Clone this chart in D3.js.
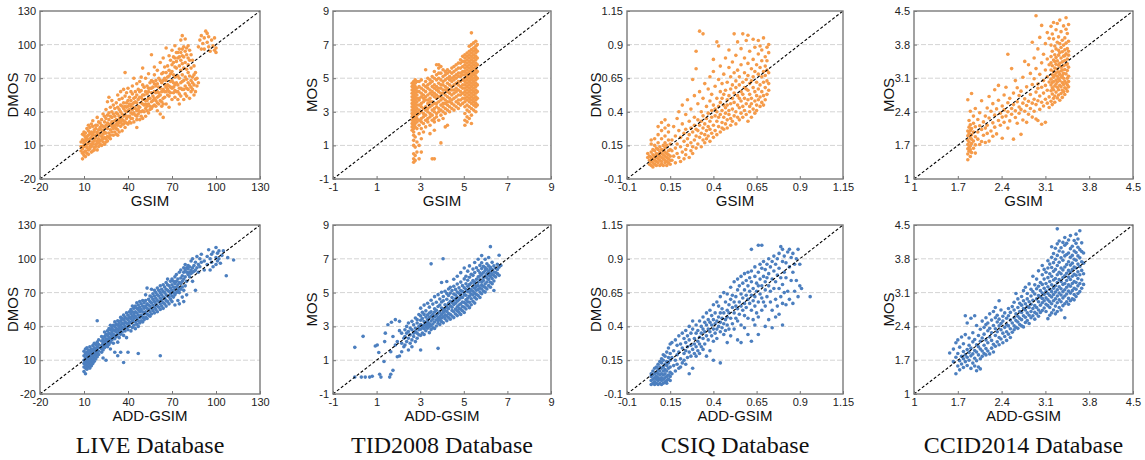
<!DOCTYPE html>
<html>
<head>
<meta charset="utf-8">
<title>GSIM vs ADD-GSIM scatter plots</title>
<script src="https://d3js.org/d3.v7.min.js"></script>
<style>
body { margin: 0; background: #fff; }
.tick text { font-family: "Liberation Sans", Arial, sans-serif; font-size: 11px; fill: #222; }
.tick line { stroke: #777; }
.axis-title { font-family: "Liberation Sans", Arial, sans-serif; font-size: 15px; fill: #111; }
.db-title { font-family: "Liberation Serif", "Times New Roman", serif; font-size: 24px; fill: #111; }
</style>
</head>
<body>
<div id="container"></div>
<script>

//---------------------------- DATA ----------------------------//
// every column is [x, y1, y2, ...]
var liveGsimCols = [
[8,5,9,13],[9,-2,3,7,9,15,20],[10,1,4,9,12,14,19,22],[11,0,5,10,14,17,21],[12,3,8,11,16,18,25],
[13,2,6,12,15,19,23,28],[14,7,9,14,16,21,26],[15,4,9,11,17,20,22,29],[16,5,11,13,19,21,27,32],
[17,6,8,14,16,22,24],[18,9,11,17,19,25,28],[19,6,12,14,20,22,28,35],
[20,9,16,13,24,31,19],[21,14,21,26,11,30],[22,18,10,24,33,15,28],[23,13,27,20,38,23,16],
[24,22,11,31,17,36,26],[25,16,28,42,21,13,34],[26,25,18,49,30,14,37],[27,21,33,28,53,17,39],
[28,29,16,44,24,36,19],[29,35,22,27,50,31,40],[30,19,31,46,25,38,28],[31,27,36,22,43,32],
[32,33,20,48,29,39,25],[33,24,38,19,55,31,44,28],[34,30,42,22,36,51,33],[35,40,27,58,34,46,31],
[36,33,23,45,38,52,29],[37,29,43,36,60,32,48],[38,37,26,54,41,75,31,45],[39,34,48,30,57,40,44],
[40,41,29,61,36,50,45],[41,36,47,31,53,42],[42,45,30,58,39,50,34],[43,38,56,34,63,47,42],
[44,44,31,70,39,52,48],[45,49,37,58,43,53],[46,26,41,55,36,65,48,33],[47,45,38,60,51,42],
[48,53,33,67,44,58,40],[49,40,59,48,71,36,53],[50,47,34,79,55,41,64,51],[51,55,40,62,46,51],
[52,43,58,36,70,50,47],[53,50,63,41,56,45],[54,58,39,74,47,61,52],[55,45,61,52,66,42],
[56,49,91,57,43,68,61],[57,62,45,54,67,50],[58,52,80,46,65,58,73],[59,57,45,68,50,63],
[60,48,77,58,41,65,53],[61,62,47,70,54,57],[62,55,38,84,61,68,50],[63,49,66,58,74,45],
[64,60,35,75,52,88,68,47],[65,64,53,80,58,70],[66,58,97,47,68,75,62],[67,71,55,64,81,60],
[68,63,44,90,54,72,77,58],[69,67,57,86,62,74],[70,76,51,95,61,68,82],[71,62,84,57,73,89,66],
[72,71,53,99,64,80,88,59],[73,79,58,93,66,85,72],[74,64,51,88,72,93,58],[75,70,47,96,61,81,89,56],
[76,86,54,104,66,77,93,61],[77,73,60,108,83,96,67,90],[78,60,79,51,98,68,89],[79,84,56,105,71,94,63],
[80,69,54,91,78,97,61],[81,75,60,99,66,88,82],[82,64,52,95,72,86],[83,58,79,91,68,62],
[84,71,60,86,66],[85,64,55,81,73],[86,69,58,75],[87,63,70],
[88,66,98],[89,104],[90,96,108],[91,101],[92,96,106],[93,112],[94,102,110],
[95,98,107],[96,94],[97,104],[98,99],[99,95,106],[100,93,97]
];

var tidGsimCols = [
[2.63,1.9,2.1,2.3,2.5,2.7,2.9,3.1,3.3,3.5,3.7,3.9,4.1,4.3,4.5,4.7],
[2.7,0.0,0.2,0.5,1.0,1.3,1.6,1.8,2.0,2.2,2.4,2.6,2.8,3.0,3.2,3.4,3.6,3.8,4.0,4.2,4.4,4.6,4.8],
[2.77,0.1,0.4,0.9,1.5,2.1,2.3,2.5,2.7,2.9,3.1,3.3,3.5,3.7,3.9,4.1,4.3,4.5,4.7,4.9],
[2.85,0.6,1.2,2.0,2.4,2.6,2.8,3.0,3.2,3.4,3.6,3.8,4.0,4.2,4.4,4.8],
[2.95,0.2,1.0,1.7,2.2,2.5,2.9,3.1,3.4,3.7,3.8,4.2,4.5,4.8],
[3.05,0.6,1.4,2.0,2.4,2.6,3.0,3.3,3.5,3.9,4.1,4.4,4.9],
[3.15,1.8,2.3,2.7,2.9,3.2,3.6,3.8,4.0,4.3,4.6],
[3.25,2.1,2.5,2.8,3.1,3.3,3.7,3.9,4.2,4.5,4.8,5.5],
[3.35,2.4,2.6,3.0,3.2,3.5,3.7,4.0,4.4,4.6,5.0],
[3.45,1.7,2.2,2.7,2.9,3.3,3.6,3.8,4.1,4.3,4.7,4.9],
[3.55,0.2,2.5,2.8,3.1,3.4,3.6,4.0,4.2,4.5,4.8,5.1],
[3.65,0.2,1.9,2.4,2.6,3.0,3.2,3.5,3.9,4.1,4.4,4.6,5.0,5.4],
[3.75,2.7,2.9,3.3,3.5,3.8,4.0,4.3,4.5,4.9,5.2,5.8],
[3.85,2.5,3.0,3.2,3.6,3.9,4.2,4.4,4.7,5.0,5.3,5.6,5.8],
[3.95,1.15,2.8,3.1,3.4,3.7,3.9,4.1,4.4,4.6,4.9,5.3,5.7],
[4.05,2.6,3.0,3.3,3.5,3.8,4.1,4.3,4.6,4.8,5.1,5.5],
[4.15,2.1,2.9,3.2,3.5,3.7,4.0,4.3,4.5,4.9,5.2,5.4],
[4.25,2.2,3.1,3.4,3.6,3.9,4.2,4.4,4.7,5.0,5.3,5.5],
[4.35,3.0,3.3,3.6,3.8,4.1,4.3,4.6,4.9,5.1,5.4],
[4.45,3.2,3.5,3.7,4.0,4.3,4.5,4.8,5.0,5.3,5.6],
[4.55,3.1,3.4,3.8,4.1,4.3,4.6,4.9,5.1,5.4,5.7],
[4.65,3.3,3.6,3.9,4.2,4.4,4.7,5.0,5.2,5.5,5.8],
[4.75,3.2,3.5,3.7,4.0,4.3,4.6,4.8,5.1,5.3,5.6,5.9],
[4.85,3.4,3.7,4.0,4.2,4.5,4.8,5.1,5.3,5.6,5.9,6.1],
[4.95,3.5,3.8,4.1,4.4,4.6,4.9,5.2,5.4,5.7,6.0,6.3],
[5.05,2.2,2.5,2.9,3.3,3.6,3.8,4.0,4.2,4.4,4.6,4.8,5.0,5.2,5.4,5.6,5.8,6.0,6.2,6.4],
[5.15,2.4,2.7,3.1,3.4,3.7,3.9,4.1,4.3,4.5,4.7,4.9,5.1,5.3,5.5,5.7,5.9,6.1,6.3,6.5],
[5.25,2.6,3.0,3.3,3.6,3.8,4.0,4.2,4.4,4.6,4.8,5.0,5.2,5.4,5.6,5.8,6.0,6.2,6.4,6.6,6.9],
[5.35,2.3,2.8,3.2,3.5,3.7,3.9,4.1,4.3,4.5,4.7,4.9,5.1,5.3,5.5,5.7,5.9,6.1,6.3,6.5,6.7,7.0,7.7],
[5.45,3.1,3.4,3.6,3.8,4.0,4.2,4.4,4.6,4.8,5.0,5.2,5.4,5.6,5.8,6.0,6.2,6.4,6.6,6.8,7.1],
[5.55,3.0,3.3,3.5,3.7,3.9,4.1,4.3,4.5,4.7,4.9,5.1,5.3,5.5,5.7,5.9,6.1,6.3,6.5,6.7,6.9,7.2],
[5.62,3.4,3.8,4.2,4.6,5.0,5.4,5.8,6.2,6.6,7.0]
];

var csiqGsimCols = [
[0.02,0.06,0.09],[0.03,0.01,0.04,0.07],[0.04,0.0,0.03,0.06,0.1,0.16,0.19],[0.05,-0.01,0.02,0.05,0.08,0.12],
[0.06,0.01,0.04,0.07,0.11,0.15,0.2],[0.07,0.0,0.03,0.06,0.09,0.13],[0.08,0.02,0.05,0.08,0.12,0.17,0.23,0.29],
[0.09,0.0,0.04,0.07,0.1,0.14],[0.1,0.01,0.03,0.06,0.09,0.12,0.2,0.26,0.32],[0.11,0.0,0.05,0.08,0.11,0.15],
[0.12,0.02,0.04,0.07,0.1,0.13,0.17,0.22,0.28,0.34],[0.13,0.0,0.03,0.06,0.09,0.15],
[0.14,0.02,0.05,0.08,0.11,0.19,0.25,0.3],[0.15,0.01,0.04,0.07,0.12,0.16],
[0.16,0.04,0.19,0.11],[0.17,0.29,0.07],[0.18,0.13,0.02,0.22],[0.19,0.35,0.09,0.16],[0.2,0.06,0.26,0.4],
[0.21,0.14,0.21,0.03],[0.22,0.31,0.1,0.45],[0.23,0.18,0.05,0.24],[0.24,0.12,0.38,0.08,0.27],[0.25,0.2,0.49,0.15],
[0.26,0.06,0.33,0.23],[0.27,0.11,0.42,0.17,0.28],[0.28,0.25,0.64,0.14,0.09],[0.29,0.19,0.36,0.52,0.3],
[0.3,0.13,0.27,0.72,0.85,0.22],[0.31,0.34,0.16,0.46,0.26],[0.32,0.21,0.55,1.0,0.3],[0.33,0.14,0.4,0.24,0.33],
[0.34,0.98,0.28,0.19,0.5,0.37],[0.35,0.23,0.61,0.31,0.17],[0.36,0.35,0.44,0.26,0.2],[0.37,0.29,0.57,0.39,0.22],
[0.38,0.18,0.48,0.33,0.66,0.27],[0.39,0.41,0.24,0.36,0.53],[0.4,0.3,0.7,0.45,0.21,0.79],[0.41,0.37,0.26,0.59,0.42],
[0.42,0.33,0.92,0.5,0.23,0.4],[0.43,0.29,0.64,0.44,0.89,0.36],[0.44,0.47,0.25,0.55,0.38,0.74],
[0.45,0.32,0.41,0.61,0.28,0.5],[0.46,0.36,0.68,0.45,0.27,0.53],[0.47,0.43,0.31,0.8,0.56,0.39],
[0.48,0.49,0.34,0.62,0.28,0.45],[0.49,0.38,0.73,0.52,0.41,0.86],[0.5,0.3,0.57,0.46,0.66,0.35],
[0.51,0.42,0.6,0.33,0.77,0.5],[0.52,0.54,0.37,0.98,0.47,0.69],[0.53,0.4,0.63,0.31,0.58,0.82],
[0.54,0.45,0.36,0.71,0.52,0.92],[0.55,0.6,0.43,0.34,0.66,0.5],[0.56,0.39,0.75,0.55,0.48,0.87],
[0.57,0.62,0.44,0.98,0.53,0.36],[0.58,0.5,0.69,0.41,0.8,0.58],[0.59,0.38,0.57,0.64,0.46,0.93],
[0.6,0.67,0.49,0.33,0.76,0.56,0.97],[0.61,0.44,0.61,0.53,0.85,0.4],[0.62,0.72,0.5,0.36,0.63,0.46],
[0.63,0.58,0.42,0.79,0.66,0.94],[0.64,0.48,0.7,0.39,0.55,0.88],[0.65,0.62,0.45,0.75,0.52,0.41],
[0.66,0.57,0.83,0.49,0.68,0.93],[0.67,0.44,0.6,0.73,0.51,0.89],[0.68,0.66,0.47,0.78,0.55,0.86],
[0.69,0.52,0.7,0.62,0.95,0.45],[0.7,0.58,0.81,0.49,0.74,0.67],[0.71,0.63,0.53,0.88,0.71,0.78],
[0.72,0.56,0.69,0.84,0.61,0.9]
];

var ccidGsimCols = [
[1.86,1.4,1.63,1.52,1.81,1.72,2.0,2.65,1.9],[1.88,1.58,1.77,1.66,2.08,1.95,2.22],
[1.9,1.47,1.69,1.86,2.13,1.61,2.41,2.01],[1.92,1.83,1.55,1.74,2.78,2.05,1.92],
[1.95,1.64,2.16,1.79,1.98,2.31],[1.98,1.71,1.54,2.09,1.88,2.47],
[2.02,1.83,2.24,1.98],[2.05,1.72,2.11,2.38],[2.08,2.03,1.78,2.63],[2.11,1.91,2.19],[2.14,1.76,2.31,2.06],
[2.17,2.12,1.95,2.48],[2.2,1.79,2.27,2.72],[2.23,2.0,2.41],[2.26,2.17,1.89,2.57],[2.29,2.33,2.08,2.86],
[2.32,1.94,2.46],[2.35,2.22,2.64,2.95],[2.38,2.12,2.37],[2.41,1.85,2.52,2.29],[2.44,2.44,2.18,2.75],
[2.47,2.31,2.91],[2.5,2.06,2.59,2.4,3.6],[2.53,2.21,2.68],[2.56,2.47,2.35,3.3],[2.59,1.83,2.55,2.79],
[2.62,2.28,2.42,3.05],[2.65,2.16,2.61,2.9],[2.68,2.37,2.5,2.74],[2.71,1.93,2.83,2.45],[2.74,2.23,2.58,3.12],
[2.77,2.67,2.41,3.45],[2.8,2.18,2.92,2.53],[2.83,2.62,2.35,3.38],[2.86,2.76,2.47,3.2],
[2.89,2.29,2.97,2.58,3.85],[2.92,2.66,3.09,2.41,3.52],[2.95,2.25,2.81,3.3,2.55,4.4],
[2.98,2.63,2.22,2.98,3.71,2.89],[3.01,2.73,3.18,2.45,3.95],[3.04,2.14,2.91,2.6,3.42,4.2],
[3.07,2.79,3.05,2.52,3.6],[3.1,2.18,2.66,3.27,2.95,3.82],[3.13,2.85,2.58,3.13,3.5,4.05],
[3.16,2.71,3.02,3.38,2.49,3.93],
[3.19,2.62,3.08,2.84,3.55,3.27,2.96,3.79,4.18,3.42],[3.21,2.77,3.17,2.55,3.36,3.01,3.66,2.9,4.02],
[3.23,3.12,2.68,3.48,2.86,3.24,3.92,3.03,4.26],[3.25,2.94,3.31,2.73,3.59,3.16,2.6,3.77,3.45],
[3.27,3.06,2.81,3.39,3.21,2.98,3.71,4.11,3.53],[3.29,2.69,3.14,2.91,3.46,3.29,3.85,3.02,4.24],
[3.31,3.23,2.86,3.58,3.09,2.75,3.37,3.96,3.68],[3.33,2.95,3.41,3.18,2.64,3.63,3.05,4.31,3.82],
[3.35,3.12,2.78,3.52,3.33,2.92,3.74,4.07,3.25],[3.37,2.85,3.27,3.01,3.65,3.44,3.15,3.89,2.7],
[3.39,3.36,2.97,3.2,3.56,2.82,3.79,4.19,3.1],[3.41,3.04,3.47,2.76,3.28,3.69,2.9,3.94,3.57],
[3.43,2.88,3.19,3.61,3.38,3.0,4.12,3.83,4.36],[3.45,3.1,2.83,3.5,3.26,3.72,2.96,4.03,3.4],
[3.47,2.92,3.33,3.14,3.58,3.87,3.03,4.22,3.66]
];

var liveAddCols = [
[10,0,4,7,10,14,18],[11,-2,3,6,9,12,16,20],[12,2,5,8,11,14,17,21],[13,4,7,10,13,16,19],
[14,3,6,9,12,15,18,22],[15,5,8,11,14,17,20],[16,7,10,13,16,19,23],[17,9,12,15,18,21,25],
[18,11,14,17,20,24],[19,13,16,19,22,26,45],[20,15,18,21,24,28],[22,17,20,23,27,31],
[23,12,19,22,25,29],[24,21,24,27,31,35],[25,10,23,26,29,33],[26,22,25,28,32,36],
[27,24,27,30,34,38],[28,20,26,29,33,37,41],[29,28,31,35,39],[30,25,30,33,37,41],
[31,17,29,32,36,40,44],[32,31,35,38,42],[33,14,26,33,37,41,45],[34,30,35,39,43],
[35,17,33,37,41,45,48],[36,35,39,43,47],[37,8,32,38,42,46,50],[38,36,40,44,48],
[39,30,39,43,47,52],[40,17,37,42,46,50],[41,40,44,48,53],[42,36,43,47,51,55],
[43,39,45,49,53,58],[44,41,47,51,56],[45,38,44,49,53,58],[46,42,47,52,56,61],
[47,16,40,45,50,55,59],[48,43,48,53,57,62],[49,45,50,55,60],[50,44,48,53,58,63],
[51,46,51,56,61],[52,48,53,58,63,68],[53,47,51,56,60,74],[54,50,55,59,64],
[55,49,53,58,62,67],[56,51,56,61,66,73],[57,54,59,64,69],[58,52,57,62,67,72],
[59,55,60,65,70],[60,53,58,63,68,74],[61,57,62,67,72],[62,14,55,60,65,70,76],
[63,58,63,68,73],[64,56,61,66,71,77],[65,60,65,70,75],[66,58,63,68,73,79],
[67,62,67,72,77,82],[68,60,66,71,76],[69,64,69,74,80],[70,62,67,72,77,82],
[71,66,70,75,80],[72,59,68,73,78,84],[73,70,75,80,86],[74,63,72,77,82],
[75,60,70,74,79,88],[76,73,78,83,90],[77,66,75,80,85],[78,62,72,82,88,92],
[79,76,84,90,95],[80,68,80,88,92],[81,86,91,94],[82,84,88,93],[83,87,90,98],
[84,80,88,92,100],[85,89,94],[86,72,90,97],[87,92,102],[88,88,95],[89,93,100],
[90,97,104],[92,90,98],[94,95,102],[95,108],[96,90,100],[97,97,104],[98,93,106],
[100,95,101,110],[101,98,105],[102,100,107],[103,96],[104,103],[105,107],[107,85],[108,101],[112,99]
];

var tidAddCols = [
[0.0,0.0,1.76],[0.3,0.0],[0.38,2.41],[0.48,0.0],[0.68,0.0],[0.8,0.05],[0.94,1.84],[1.03,1.9],
[1.1,1.46],[1.14,0.17],[1.2,0.0],[1.34,0.92],[1.37,2.1],[1.4,2.6],[1.52,3.1],[1.6,0.0],
[1.65,0.17,1.5],[1.68,3.25],[1.75,0.4,2.4],[1.86,3.4,1.9],[1.95,1.2,2.1],[2.05,1.25,2.75,3.3],
[2.15,1.5,2.0,2.6],[2.25,1.8,2.3],
[2.3,1.9,2.4,2.8],[2.38,2.1,2.6,3.0],[2.46,1.6,2.3,2.7,3.2],[2.54,2.0,2.5,2.9],[2.62,1.8,2.2,2.8,3.3],
[2.7,2.4,2.6,3.1],[2.78,2.1,2.7,2.9,3.5],[2.86,2.3,2.6,3.2,3.4],[2.94,2.5,2.8,3.0,3.7],
[3.02,2.47,3.36,2.83,4.08,1.6,3.11,3.62],[3.1,3.04,2.61,3.47,2.92,3.83],[3.18,2.52,3.29,3.71,2.86,4.26,3.08],
[3.26,3.18,2.74,3.56,3.92,2.97],[3.34,2.89,3.41,3.07,4.37,3.68,3.24],[3.42,2.63,3.53,3.16,4.14,2.98,3.79],
[3.5,3.32,2.81,3.87,3.05,4.55,6.7,3.61],[3.58,3.14,3.72,3.43,4.32,2.92],[3.66,2.88,3.57,4.04,3.26,4.76,3.85],
[3.74,3.39,3.02,3.96,3.64,4.43],[3.82,1.7,3.19,4.18,3.51,3.77,4.88,3.34],[3.9,3.58,3.11,4.27,3.86,4.62,3.4],
[3.98,3.28,4.09,3.71,5.02,3.49,4.44,5.6],[4.05,7.0],[4.06,3.83,3.21,4.52,3.99,4.77,3.57],
[4.14,3.46,4.28,3.68,5.08,4.06,3.91],[4.22,3.33,4.61,3.89,5.66,4.17,4.94,3.62],[4.3,4.36,3.52,4.83,3.76,5.21,4.05],
[4.38,3.71,4.48,3.43,4.97,4.22,5.31],[4.46,4.13,3.61,4.71,3.94,5.12,4.42],[4.54,3.52,4.54,5.79,3.87,4.29,5.38,4.92],
[4.62,4.02,4.63,3.73,5.19,4.37,4.86],[4.7,3.64,4.49,5.97,4.16,5.03,3.92,5.51,4.74],[4.78,4.27,3.83,4.96,4.58,5.28,4.05],
[4.86,3.71,4.69,6.18,4.34,5.12,4.02,5.62,4.88],[4.94,4.44,3.93,5.07,4.71,5.41,4.18],
[5.02,3.82,4.86,6.46,4.41,5.29,4.13,5.81,4.99],[5.1,4.57,4.03,5.18,4.84,5.52,5.97,4.32],
[5.18,4.22,5.06,4.67,6.27,5.38,4.46,5.73],[5.26,4.11,5.21,4.79,6.58,5.47,4.43,5.91,5.03],
[5.34,4.92,4.28,5.57,5.16,6.08,4.64],[5.42,4.49,5.33,4.86,6.39,5.71,5.08,6.02],
[5.5,4.38,5.49,4.97,6.78,5.26,4.71,6.19,5.62],[5.58,5.14,4.62,5.79,5.37,6.47,4.89],
[5.66,4.83,5.61,5.18,6.97,5.93,5.41,6.31],[5.74,4.71,5.76,5.29,6.61,5.98,5.03,6.17],
[5.82,5.44,4.93,6.08,5.62,7.19,5.21,6.77,6.42],[5.9,5.09,5.89,5.37,6.56,6.19,5.71],
[5.98,5.03,5.98,5.52,6.97,6.31,5.31,6.48],[6.06,5.63,5.22,6.12,5.87,6.71,6.39],
[6.14,5.41,6.27,5.78,7.08,6.03,6.58],[6.22,5.32,6.41,5.96,7.72,5.61,6.18,6.49],
[6.3,5.52,6.08,6.37,5.83,6.79],[6.38,5.12,6.22,5.69,6.58,6.01],[6.46,5.93,6.44,6.19],
[6.54,6.12,6.68,6.37],[6.62,6.02,7.21,6.51],[6.7,6.6]
];

var csiqAddCols = [
[0.04,-0.03,0.0,0.03,0.05],[0.05,-0.02,0.01,0.04,0.07],[0.06,-0.03,-0.01,0.02,0.05,0.09],
[0.07,-0.02,0.01,0.03,0.06,0.1],[0.08,-0.03,0.0,0.02,0.05,0.08,0.12],[0.09,-0.02,0.01,0.04,0.07,0.1,0.14],
[0.1,-0.03,0.0,0.02,0.05,0.09,0.13,0.16],[0.11,-0.02,0.01,0.04,0.07,0.1,0.15,0.19],
[0.12,-0.01,0.02,0.05,0.08,0.12,0.18],[0.13,-0.02,0.0,0.03,0.07,0.11,0.14,0.21],
[0.14,0.01,0.04,0.09,0.13,0.17,0.24],[0.15,0.0,0.03,0.06,0.1,0.15,0.2,0.27],
[0.16,0.17,0.05,0.28],[0.17,0.22,0.11],[0.18,0.07,0.3,0.15],[0.19,0.19,0.12,0.26],[0.2,0.09,0.33,0.21],
[0.21,0.16,0.27,0.1],[0.22,0.24,0.13,0.35],[0.23,0.2,0.31,0.15],[0.24,0.28,0.12,0.37,0.22],[0.25,0.17,0.33,0.25],
[0.26,0.05,0.3,0.21,0.4],[0.27,0.26,0.18,0.35],[0.28,0.09,0.38,0.23,0.44],[0.29,0.31,0.2,0.27],
[0.3,0.25,0.41,0.18,0.35],[0.31,0.37,0.29,0.22],[0.32,0.2,0.44,0.32,0.27],[0.33,0.4,0.25,0.35],
[0.34,0.31,0.47,0.23,0.38],[0.35,0.27,0.43,0.36],[0.36,0.18,0.5,0.33,0.41],[0.37,0.45,0.3,0.38],
[0.38,0.36,0.22,0.52,0.43],[0.39,0.41,0.33,0.48],[0.4,0.15,0.56,0.38,0.45,0.29],[0.41,0.5,0.35,0.42],
[0.42,0.44,0.58,0.31,0.38],[0.43,0.47,0.4,0.55],[0.44,0.13,0.36,0.62,0.5,0.43],[0.45,0.53,0.46,0.39],
[0.46,0.42,0.65,0.5,0.34],[0.47,0.58,0.45,0.37],[0.48,0.28,0.52,0.64,0.47,0.41],[0.49,0.56,0.38,0.5],
[0.5,0.46,0.69,0.6,0.33],[0.51,0.54,0.42,0.63],[0.52,0.5,0.73,0.38,0.58],[0.53,0.62,0.46,0.55],
[0.54,0.3,0.67,0.53,0.75,0.44],[0.55,0.58,0.49,0.7],[0.56,0.28,0.64,0.41,0.55,0.77],[0.57,0.52,0.72,0.61],
[0.58,0.39,0.67,0.57,0.79,0.48],[0.59,0.63,0.54,0.74],[0.6,0.34,0.7,0.46,0.8,0.6],[0.61,0.57,0.66,0.76],
[0.62,0.29,0.97,0.52,0.73,0.63,0.81],[0.63,0.68,0.59,0.45],[0.64,0.41,0.77,0.62,0.84,0.55],[0.65,0.72,0.5,0.66],
[0.66,0.34,1.0,0.58,0.8,0.7,0.47],[0.67,0.64,0.75,0.86],[0.68,1.0,0.52,0.7,0.83,0.61],[0.69,0.77,0.58,0.88],
[0.7,0.4,0.67,0.82,0.73,0.55],[0.71,0.62,0.86,0.76],[0.72,0.45,0.79,0.7,0.9],[0.73,0.58,0.84,0.66],
[0.74,0.39,0.75,0.88,0.52],[0.75,0.81,0.68,0.92],[0.76,0.47,0.73,0.86,0.6],[0.77,0.9,0.78,0.55],
[0.78,0.49,0.83,0.68,0.94],[0.79,0.99,0.76,0.62],[0.8,0.41,0.88,0.71,0.97,0.57],[0.81,0.8,0.65,0.92],
[0.82,0.56,0.87,0.76],[0.83,0.95,0.66],[0.84,0.6,0.84,0.97],[0.85,0.74,0.91],[0.86,0.57,0.94,0.8],
[0.87,0.66,0.86],[0.88,0.9,0.74],[0.89,0.62,0.97],[0.9,0.7,0.86],[0.91,0.68],[0.96,0.62]
];

var ccidAddCols = [
[1.57,1.85],[1.63,1.93,1.67],[1.67,1.76,2.06,1.42],[1.7,2.12,1.58,1.84],[1.73,1.69,1.97,1.5],
[1.76,2.18,1.62,1.78],[1.79,1.88,1.55,2.04,1.73],[1.82,2.23,1.67,2.62,1.81],[1.85,1.92,2.47,1.59,1.76],
[1.88,2.16,1.7,2.01,1.86],[1.91,1.79,2.57,1.53,1.95],[1.94,2.08,1.64,2.27,1.83],[1.97,1.9,2.62,1.58,2.13,1.74],
[2.0,2.02,1.48,2.42,1.69,1.87],[2.03,1.98,2.21,1.56,1.81],[2.06,2.34,1.73,2.09,1.52,1.93],[2.09,2.16,1.78,2.51,1.89],
[2.12,2.24,1.84,2.38,2.01],[2.15,2.44,1.94,2.12,2.58,1.81],[2.18,2.06,2.31,1.89,2.47],[2.21,2.36,1.83,2.66,2.18],
[2.24,2.11,2.53,1.95,2.27],[2.27,2.42,2.03,2.71,1.87],[2.3,2.21,2.58,1.99,2.79,2.35],[2.33,2.49,2.08,2.63,2.29],
[2.36,2.17,2.93,2.41,2.02,2.55],[2.39,2.33,2.74,2.14,2.46],[2.42,2.51,2.06,2.61,2.26],[2.45,2.38,2.19,2.68],
[2.48,2.29,2.57,2.11,2.44],[2.51,2.62,2.24,2.77,2.41],[2.54,2.35,2.69,2.17,2.53],[2.57,2.47,2.81,2.28],
[2.6,2.58,2.33,2.9,2.41,2.74],[2.63,2.52,3.08,2.38,2.66],[2.66,2.79,2.36,2.61,2.97,2.49],[2.69,2.57,2.88,2.44,2.71],
[2.72,2.69,2.41,3.02,2.54,2.84],[2.75,2.93,2.62,2.39,3.14,2.77],[2.78,2.59,2.87,2.48,3.21,2.74],
[2.81,2.81,2.52,3.08,2.68,2.97],[2.84,2.63,3.28,2.46,2.91,2.79],[2.87,2.86,2.58,3.17,2.71,3.03],
[2.9,2.77,3.44,2.62,3.12,2.94],[2.93,3.07,2.55,2.83,3.26,2.69],[2.96,2.79,3.38,2.66,3.18,2.97],
[2.99,3.04,2.61,3.55,2.91,3.23,2.74],[3.02,2.84,3.31,2.69,3.14,3.01],[3.05,3.27,2.73,3.66,2.98,3.47,2.89,3.09],
[3.08,2.93,3.58,2.78,3.19,3.38,3.06],[3.11,3.29,2.71,3.13,3.52,2.86,2.99],
[3.14,2.95,3.61,2.56,3.22,3.41,2.83,3.76,3.08],[3.17,3.33,2.79,3.69,3.04,2.63,3.49,2.91,3.17],
[3.2,3.12,3.83,2.68,3.44,2.87,4.05,3.26,3.62,3.01],[3.23,2.93,3.54,3.19,3.91,2.74,3.36,3.06,3.72],
[3.26,3.39,2.82,3.79,3.11,2.66,3.58,4.02,2.97,3.24],[3.29,3.16,4.42,2.89,3.66,3.47,2.71,3.87,3.03,4.11,3.31],
[3.32,3.52,2.95,3.96,3.22,2.79,3.73,3.09,4.17,3.37],[3.35,3.05,3.61,2.74,3.33,4.03,3.18,2.91,3.82,3.49],
[3.38,3.41,2.99,3.77,3.12,3.94,2.83,3.57,4.14,3.27],[3.41,2.87,3.63,3.29,4.08,2.58,3.16,3.86,3.03,4.24,3.45],
[3.44,3.21,3.89,3.07,3.5,2.91,3.68,4.12,3.35],[3.47,3.56,2.98,3.92,3.26,4.19,2.86,3.74,3.13,3.42],
[3.5,3.09,3.67,3.37,4.01,2.93,3.83,3.23,4.28,3.52],[3.53,3.44,3.14,3.87,2.97,3.58,4.06,3.29,3.71],
[3.56,3.19,3.79,2.95,3.48,4.18,3.06,3.63,3.96,3.33],[3.59,3.61,3.02,3.93,3.31,4.31,3.17,3.77,4.12,3.46],
[3.62,3.24,3.86,3.08,3.53,4.04,3.39,3.69,4.21],[3.65,3.47,3.12,3.99,3.29,3.82,4.38,3.64],
[3.68,3.36,3.74,3.19,4.13,3.56,3.95],[3.71,3.49,3.27,3.92,3.71]
];

var liveTicks = [-20, 10, 40, 70, 100, 130];
var tidTicks  = [-1, 1, 3, 5, 7, 9];
var csiqTicks = [-0.1, 0.15, 0.4, 0.65, 0.9, 1.15];
var ccidTicks = [1, 1.7, 2.4, 3.1, 3.8, 4.5];

var dbTitles = ["LIVE Database", "TID2008 Database", "CSIQ Database", "CCID2014 Database"];
var yTitles  = ["DMOS", "MOS", "DMOS", "MOS"];
var xTitles  = ["GSIM", "ADD-GSIM"];

//--------------------------- LAYOUT ---------------------------//
var tickSets = [liveTicks, tidTicks, csiqTicks, ccidTicks];
var rowCols = [
    [liveGsimCols, tidGsimCols, csiqGsimCols, ccidGsimCols],
    [liveAddCols, tidAddCols, csiqAddCols, ccidAddCols]
];
var rowColor = ["#f59b4a", "#4c7fbf"];

var colLeft  = [40, 333, 627, 914];
var colWidth = [220, 218, 216, 219];
var yTitleGap = [27, 21, 31, 25];
var rowTop = [11, 225];
var rowHeight = [168, 169];

function toPoints(cols) {
    var pts = [];
    cols.forEach(function(c) {
        c.slice(1).forEach(function(y) { pts.push([c[0], y]); });
    });
    return pts;
}

var svg = d3.select("#container").append("svg")
    .attr("width", 1145)
    .attr("height", 460);

//-------------------------- PANELS ----------------------------//
rowCols.forEach(function(row, r) {
    row.forEach(function(cols, c) {
        var ticks = tickSets[c];
        var lo = ticks[0], hi = ticks[ticks.length - 1];
        var w = colWidth[c], h = rowHeight[r];

        var x = d3.scaleLinear().domain([lo, hi]).range([0, w]);
        var y = d3.scaleLinear().domain([lo, hi]).range([h, 0]);

        var g = svg.append("g")
            .attr("transform", "translate(" + colLeft[c] + "," + rowTop[r] + ")");

        // horizontal dashed grid on the inner ticks
        g.selectAll(".grid")
            .data(ticks.slice(1, -1))
            .enter().append("line")
            .attr("x1", 0).attr("x2", w)
            .attr("y1", function(d) { return y(d); })
            .attr("y2", function(d) { return y(d); })
            .attr("stroke", "#d4d4d4")
            .attr("stroke-width", 1)
            .attr("stroke-dasharray", "5,2");

        // points
        g.selectAll(".pt")
            .data(toPoints(cols))
            .enter().append("circle")
            .attr("cx", function(d) { return x(d[0]); })
            .attr("cy", function(d) { return y(d[1]); })
            .attr("r", 1.8)
            .attr("fill", rowColor[r]);

        // y = x reference line
        g.append("line")
            .attr("x1", x(lo)).attr("y1", y(lo))
            .attr("x2", x(hi)).attr("y2", y(hi))
            .attr("stroke", "#000")
            .attr("stroke-width", 1.1)
            .attr("stroke-dasharray", "3,2");

        // axes
        var xAxis = d3.axisBottom(x).tickValues(ticks)
            .tickSizeInner(-3).tickSizeOuter(0).tickPadding(4)
            .tickFormat(function(d) { return String(d); });
        var yAxis = d3.axisLeft(y).tickValues(ticks)
            .tickSizeInner(-3).tickSizeOuter(0).tickPadding(4)
            .tickFormat(function(d) { return String(d); });

        g.append("g").attr("transform", "translate(0," + h + ")").call(xAxis)
            .select(".domain").remove();
        g.append("g").call(yAxis)
            .select(".domain").remove();

        // frame
        g.append("rect")
            .attr("width", w).attr("height", h)
            .attr("fill", "none")
            .attr("stroke", "#7a7a7a")
            .attr("stroke-width", 1.4);

        // axis titles
        g.append("text")
            .attr("class", "axis-title")
            .attr("text-anchor", "middle")
            .attr("x", w / 2)
            .attr("y", h + 27)
            .text(xTitles[r]);

        g.append("text")
            .attr("class", "axis-title")
            .attr("text-anchor", "middle")
            .attr("transform", "translate(" + (-yTitleGap[c] + 5) + "," + (h / 2) + ") rotate(-90)")
            .text(yTitles[c]);
    });
});

//-------------------------- TITLES ----------------------------//
svg.selectAll(".db-title")
    .data(dbTitles)
    .enter().append("text")
    .attr("class", "db-title")
    .attr("text-anchor", "middle")
    .attr("x", function(d, i) { return colLeft[i] + colWidth[i] / 2; })
    .attr("y", 453)
    .text(function(d) { return d; });

</script>
</body>
</html>
